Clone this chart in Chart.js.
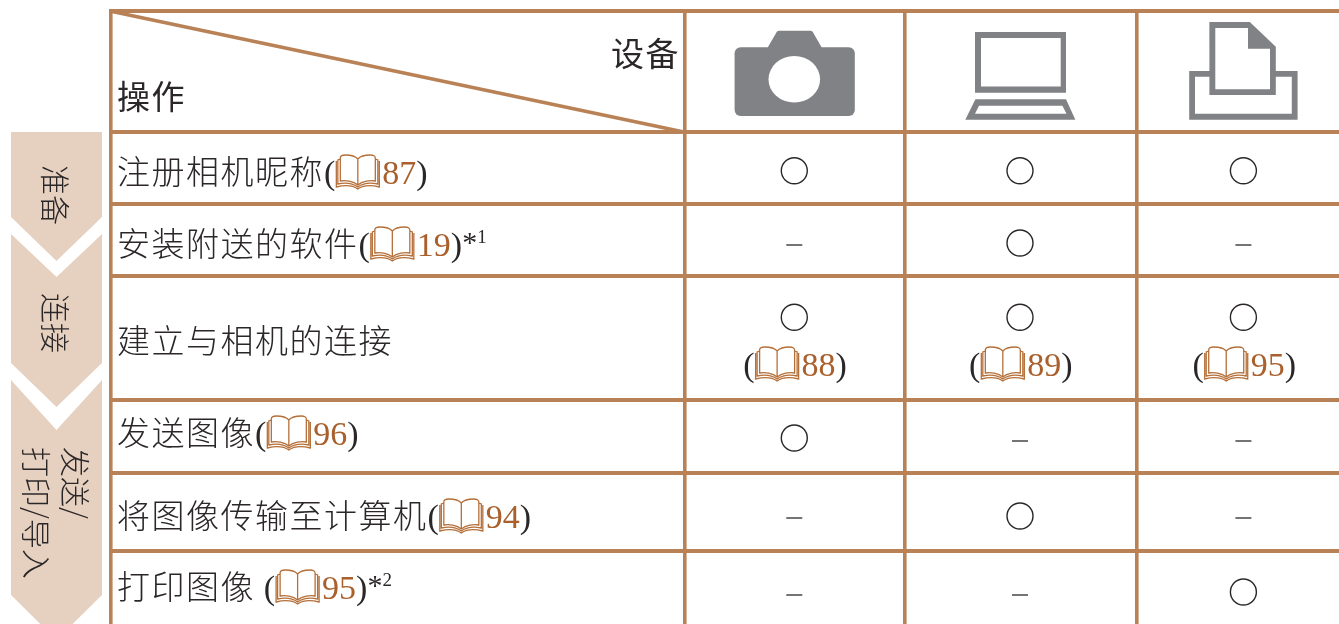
<!DOCTYPE html>
<html lang="zh-CN">
<head>
<meta charset="UTF-8">
<title>操作与设备</title>
<style>
    html, body { margin: 0; padding: 0; background: #fff; overflow: hidden; }
    canvas { display: block; }
</style>
</head>
<body>
<canvas id="tableChart" width="1339" height="624"></canvas>
<script src="https://cdn.jsdelivr.net/npm/chart.js"></script>
<script>
// table content
const operations = ['注册相机昵称', '安装附送的软件', '建立与相机的连接', '发送图像', '将图像传输至计算机', '打印图像 '];
const operationPages = [87, 19, null, 96, 94, 95];
const footnotes = [null, '1', null, null, null, '2'];
const cameraSupport = [1, 0, 1, 1, 0, 0];
const computerSupport = [1, 1, 1, 0, 1, 0];
const printerSupport = [1, 0, 1, 0, 0, 1];
const connectPages = [88, 89, 95];
const steps = [['准备'], ['连接'], ['发送/', '打印/导入']];

// layout, the axes run in page pixels
const columnEdges = [111, 685, 904.5, 1136.7];
const rowEdges = [11.3, 132.3, 204, 276, 400, 472.8, 551];
const columnCenters = [794.3, 1020, 1243.4];
const circleRows = [170.7, 243, 317.3, 438, 516, 592];
const dashRows = [170.7, 245, 317.3, 441, 518, 595];
const textRows = [184, 256, 353, 445, 528, 599];

const LINE = '#b98256';
const INK = '#2b2728';
const REF = '#a9602c';
const ICON = '#808285';
const STEP = '#e6d1c1';
const CJK = '"Noto Sans CJK SC", sans-serif';
const SERIF = '"Liberation Serif", serif';

const supports = [cameraSupport, computerSupport, printerSupport];
const circlePoints = [];
const dashPoints = [];
supports.forEach((col, c) => col.forEach((on, r) => {
    if (on) circlePoints.push({ x: columnCenters[c], y: circleRows[r] });
    else dashPoints.push({ x: columnCenters[c], y: dashRows[r] });
}));

function poly(ctx, pts) {
    pts.forEach((p, i) => i ? ctx.lineTo(p[0], p[1]) : ctx.moveTo(p[0], p[1]));
    ctx.closePath();
}

function drawBook(ctx, x, y) {
    ctx.save();
    ctx.translate(x, y);
    ctx.strokeStyle = '#b5703a';
    ctx.lineWidth = 1.3;
    ctx.beginPath();
    // two pages
    ctx.moveTo(21.5, 4);
    ctx.bezierCurveTo(19, 1, 14, 0, 9, 0);
    ctx.bezierCurveTo(6, 0, 4, 1, 4, 3);
    ctx.lineTo(4, 26);
    ctx.bezierCurveTo(9, 25, 17, 26, 21.5, 30);
    ctx.bezierCurveTo(26, 26, 34, 25, 39, 26);
    ctx.lineTo(39, 3);
    ctx.bezierCurveTo(39, 1, 37, 0, 34, 0);
    ctx.bezierCurveTo(29, 0, 24, 1, 21.5, 4);
    ctx.lineTo(21.5, 30);
    // page edges
    ctx.moveTo(4, 4);
    ctx.lineTo(1.5, 5);
    ctx.lineTo(1.5, 29);
    ctx.bezierCurveTo(8, 27.5, 16, 28, 21.5, 32);
    ctx.bezierCurveTo(27, 28, 35, 27.5, 41.5, 29);
    ctx.lineTo(41.5, 5);
    ctx.lineTo(39, 4);
    // cover
    ctx.moveTo(0, 6);
    ctx.lineTo(0, 32);
    ctx.bezierCurveTo(8, 30, 16, 30, 21.5, 34);
    ctx.bezierCurveTo(27, 30, 35, 30, 43, 32);
    ctx.lineTo(43, 6);
    ctx.stroke();
    ctx.restore();
}

// text with a book reference: ( book 87 )
function drawRef(ctx, x, baseline, page) {
    ctx.font = '34px ' + SERIF;
    ctx.fillStyle = INK;
    ctx.fillText('(', x, baseline);
    x += ctx.measureText('(').width;
    drawBook(ctx, x + 1, baseline - 29);
    x += 47;
    ctx.fillStyle = REF;
    ctx.fillText(String(page), x, baseline);
    x += ctx.measureText(String(page)).width;
    ctx.fillStyle = INK;
    ctx.fillText(')', x, baseline);
    return x + ctx.measureText(')').width;
}

function drawCameraIcon(ctx) {
    ctx.fillStyle = ICON;
    ctx.beginPath();
    ctx.roundRect(734.6, 47.3, 120.2, 68.7, 6);
    ctx.fill();
    ctx.beginPath();
    poly(ctx, [[767.4, 48], [777, 31.5], [779, 30.7], [810.5, 30.7], [812.5, 31.5], [822, 48]]);
    ctx.fill();
    ctx.fillStyle = '#fff';
    ctx.beginPath();
    ctx.ellipse(794.3, 79.3, 25.8, 23.3, 0, 0, Math.PI * 2);
    ctx.fill();
}

function drawComputerIcon(ctx) {
    ctx.fillStyle = ICON;
    ctx.beginPath();
    poly(ctx, [[975, 32], [1066, 32], [1066, 92.7], [975, 92.7]]);
    poly(ctx, [[981, 38], [981, 86.5], [1060.7, 86.5], [1060.7, 38]]);
    ctx.fill('evenodd');
    ctx.beginPath();
    poly(ctx, [[975.4, 99.3], [1066, 99.3], [1075.4, 119.7], [965.3, 119.7]]);
    poly(ctx, [[979, 105.7], [975, 113.7], [1066.5, 113.7], [1062.4, 105.7]]);
    ctx.fill('evenodd');
}

function drawPrinterIcon(ctx) {
    ctx.fillStyle = ICON;
    ctx.beginPath();
    poly(ctx, [[1189.2, 71], [1297.6, 71], [1297.6, 119.7], [1189.2, 119.7]]);
    poly(ctx, [[1195, 76.7], [1195, 113.7], [1291.8, 113.7], [1291.8, 76.7]]);
    ctx.fill('evenodd');
    ctx.beginPath();
    poly(ctx, [[1209.4, 22], [1249.8, 22], [1275.8, 46.7], [1275.8, 95], [1209.4, 95]]);
    ctx.fill();
    ctx.fillStyle = '#fff';
    ctx.beginPath();
    poly(ctx, [[1215.3, 28], [1248, 28], [1248, 48.7], [1270, 48.7], [1270, 89.3], [1215.3, 89.3]]);
    ctx.fill();
}

function drawSteps(ctx) {
    ctx.fillStyle = STEP;
    ctx.beginPath();
    poly(ctx, [[11, 132], [102, 132], [102, 217], [56.5, 261], [11, 217]]);
    poly(ctx, [[11, 234], [56.5, 277], [102, 234], [102, 363], [56.5, 407], [11, 363]]);
    poly(ctx, [[11, 380], [56.5, 430], [102, 380], [102, 595], [56.5, 640], [11, 595]]);
    ctx.fill();

    const labels = [
        { text: steps[0][0], x: 55, y: 165 },
        { text: steps[1][0], x: 55, y: 293 },
        { text: steps[2][0], x: 75, y: 447 },
        { text: steps[2][1], x: 36, y: 447 }
    ];
    ctx.fillStyle = INK;
    ctx.font = '300 30px ' + CJK;
    ctx.textBaseline = 'middle';
    labels.forEach(l => {
        ctx.save();
        ctx.translate(l.x, l.y);
        ctx.rotate(Math.PI / 2);
        ctx.fillText(l.text, 0, 0);
        ctx.restore();
    });
    ctx.textBaseline = 'alphabetic';
}

const tablePlugin = {
    id: 'tablePlugin',
    beforeDatasetsDraw(chart) {
        const ctx = chart.ctx;
        const xs = chart.scales.x;
        const ys = chart.scales.y;
        ctx.save();

        drawSteps(ctx);

        // diagonal of the header cell
        ctx.strokeStyle = LINE;
        ctx.lineWidth = 3.6;
        ctx.beginPath();
        ctx.moveTo(xs.getPixelForValue(columnEdges[0]), ys.getPixelForValue(rowEdges[0]));
        ctx.lineTo(xs.getPixelForValue(columnEdges[1]), ys.getPixelForValue(rowEdges[1]));
        ctx.stroke();

        drawCameraIcon(ctx);
        drawComputerIcon(ctx);
        drawPrinterIcon(ctx);

        // header labels are a bit heavier than the rows
        ctx.fillStyle = INK;
        ctx.textBaseline = 'alphabetic';
        ctx.font = '400 33px ' + CJK;
        ctx.letterSpacing = '1.5px';
        ctx.fillText('操作', 117, 109);
        ctx.fillText('设备', 611, 66);

        operations.forEach((op, r) => {
            ctx.font = '300 33px ' + CJK;
            ctx.letterSpacing = '1.5px';
            ctx.fillStyle = INK;
            ctx.fillText(op, 117, textRows[r]);
            let x = 117 + ctx.measureText(op).width;
            ctx.letterSpacing = '0px';
            if (operationPages[r] !== null) {
                x = drawRef(ctx, x, textRows[r], operationPages[r]);
            }
            if (footnotes[r]) {
                ctx.font = '30px ' + SERIF;
                ctx.fillText('*', x, textRows[r] - 4);
                x += ctx.measureText('*').width;
                ctx.font = '19px ' + SERIF;
                ctx.fillText(footnotes[r], x, textRows[r] - 13);
            }
        });

        connectPages.forEach((page, c) => {
            drawRef(ctx, columnCenters[c] - 51, 376, page);
        });
        ctx.restore();
    }
};

new Chart(document.getElementById('tableChart'), {
    type: 'scatter',
    data: {
        datasets: [
            {
                label: '支持',
                data: circlePoints,
                pointStyle: 'circle',
                pointRadius: 13,
                pointBorderWidth: 1.4,
                pointBorderColor: INK,
                pointBackgroundColor: 'rgba(0,0,0,0)'
            },
            {
                label: '不支持',
                data: dashPoints,
                pointStyle: 'line',
                pointRadius: 8,
                pointBorderWidth: 1.3,
                pointBorderColor: INK
            }
        ]
    },
    options: {
        responsive: false,
        animation: false,
        layout: { autoPadding: false, padding: { left: 109, top: 9, right: 0, bottom: 0 } },
        plugins: { legend: { display: false }, tooltip: { enabled: false } },
        scales: {
            x: {
                type: 'linear',
                min: 109,
                max: 1339,
                border: { display: false },
                ticks: { display: false },
                afterBuildTicks: axis => { axis.ticks = columnEdges.map(v => ({ value: v })); },
                grid: { color: LINE, lineWidth: 3.6, drawTicks: false }
            },
            y: {
                type: 'linear',
                reverse: true,
                min: 9,
                max: 624,
                border: { display: false },
                ticks: { display: false },
                afterBuildTicks: axis => { axis.ticks = rowEdges.map(v => ({ value: v })); },
                grid: { color: LINE, lineWidth: 4, drawTicks: false }
            }
        }
    },
    plugins: [tablePlugin]
});
</script>
</body>
</html>
